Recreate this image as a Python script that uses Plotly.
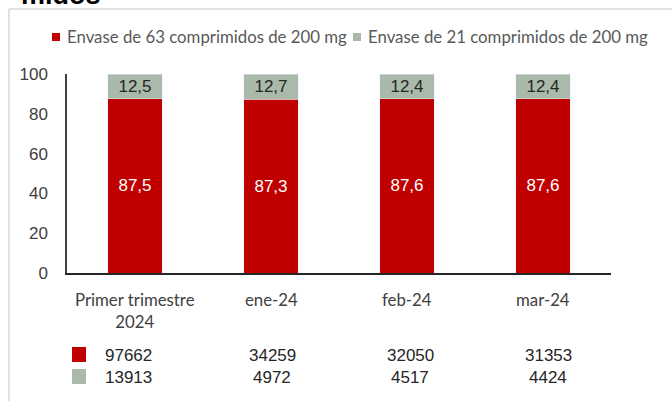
import plotly.graph_objects as go

categories = ["Primer trimestre<br>2024", "ene-24", "feb-24", "mar-24"]
series_names = ["Envase de 63 comprimidos de 200 mg", "Envase de 21 comprimidos de 200 mg"]
pct_63 = [87.5, 87.3, 87.6, 87.6]
pct_21 = [12.5, 12.7, 12.4, 12.4]
units_63 = [97662, 34259, 32050, 31353]
units_21 = [13913, 4972, 4517, 4424]
y_ticks = [0, 20, 40, 60, 80, 100]
title_text = "midos"

RED = "#C00000"
GRAY = "#A9B9AA"

W, H = 672, 401
L, R, T, B = 67, 61, 74, 128
PW, PH = W - L - R, H - T - B


def px2x(px):
    return (px - L) / PW


def py2y(py):
    return (H - B - py) / PH


fig = go.Figure()
fig.add_trace(go.Bar(
    x=categories, y=pct_63, name=series_names[0], marker_color=RED,
    width=0.4, texttemplate="%{y:.1f}", textposition="inside",
    insidetextanchor="middle", textangle=0, constraintext="none",
    textfont=dict(family="Liberation Sans, Arial", size=17, color="white"),
    showlegend=False,
))
fig.add_trace(go.Bar(
    x=categories, y=pct_21, name=series_names[1], marker_color=GRAY,
    width=0.4, texttemplate="%{y:.1f}", textposition="inside",
    insidetextanchor="middle", textangle=0, constraintext="none",
    textfont=dict(family="Liberation Sans, Arial", size=17, color="#262626"),
    showlegend=False,
))

shapes = []
annotations = []

# frame lines
shapes.append(dict(type="line", xref="paper", yref="paper",
                   x0=px2x(9), x1=px2x(W + 5), y0=py2y(9), y1=py2y(9),
                   line=dict(color="#D9D9D9", width=1.5)))
shapes.append(dict(type="line", xref="paper", yref="paper",
                   x0=px2x(9), x1=px2x(9), y0=py2y(9), y1=py2y(H + 5),
                   line=dict(color="#D9D9D9", width=1.5)))

# clipped title
annotations.append(dict(text="<b>" + title_text + "</b>", xref="paper", yref="paper",
                        x=px2x(19), y=py2y(12), xanchor="left", yanchor="bottom",
                        showarrow=False,
                        font=dict(family="Liberation Sans, Arial", size=27, color="black")))

# custom legend
leg = [(52, 65, RED, series_names[0]), (353, 366, GRAY, series_names[1])]
for sq_x, tx, col, name in leg:
    shapes.append(dict(type="rect", xref="paper", yref="paper",
                       x0=px2x(sq_x), x1=px2x(sq_x + 8), y0=py2y(33), y1=py2y(41),
                       fillcolor=col, line=dict(width=0)))
    annotations.append(dict(text=name, xref="paper", yref="paper",
                            x=px2x(tx), y=py2y(37), xanchor="left", yanchor="middle",
                            showarrow=False,
                            font=dict(family="Lato", size=16.8, color="#595959")))

# category labels
for c in categories:
    annotations.append(dict(text=c, x=c, xref="x", yref="paper", y=py2y(287),
                            xanchor="center", yanchor="top", showarrow=False,
                            font=dict(family="Lato", size=16.8, color="#404040")))

# table rows
xshifts = [-7, 1, 3, 5]
for row_vals, row_y, col in [(units_63, 355, RED), (units_21, 377, GRAY)]:
    for c, v, xs in zip(categories, row_vals, xshifts):
        annotations.append(dict(text=str(v), x=c, xref="x", yref="paper", y=py2y(row_y),
                                xanchor="center", yanchor="middle", xshift=xs,
                                showarrow=False,
                                font=dict(family="Liberation Sans, Arial", size=17, color="#262626")))
    shapes.append(dict(type="rect", xref="paper", yref="paper",
                       x0=px2x(72), x1=px2x(86), y0=py2y(row_y - 8), y1=py2y(row_y + 7),
                       fillcolor=col, line=dict(width=0)))

fig.update_layout(
    width=W, height=H, barmode="stack", separators=", ",
    margin=dict(l=L, r=R, t=T, b=B, autoexpand=False),
    plot_bgcolor="white", paper_bgcolor="white",
    shapes=shapes, annotations=annotations,
    xaxis=dict(showticklabels=False, showline=True, linecolor="#262626", linewidth=1.5,
               ticks="", showgrid=False, zeroline=False, range=[-0.5, 3.5]),
    yaxis=dict(range=[0, 100], tickvals=y_ticks, showgrid=False, zeroline=False,
               showline=True, linecolor="#404040", linewidth=1.5, ticks="",
               ticklabelstandoff=14,
               tickfont=dict(family="Liberation Sans, Arial", size=17, color="#404040")),
)

fig.write_html(
    "out.html",
    config={"displayModeBar": False},
    post_script="document.body.style.margin='0';document.body.style.overflow='hidden';",
)
